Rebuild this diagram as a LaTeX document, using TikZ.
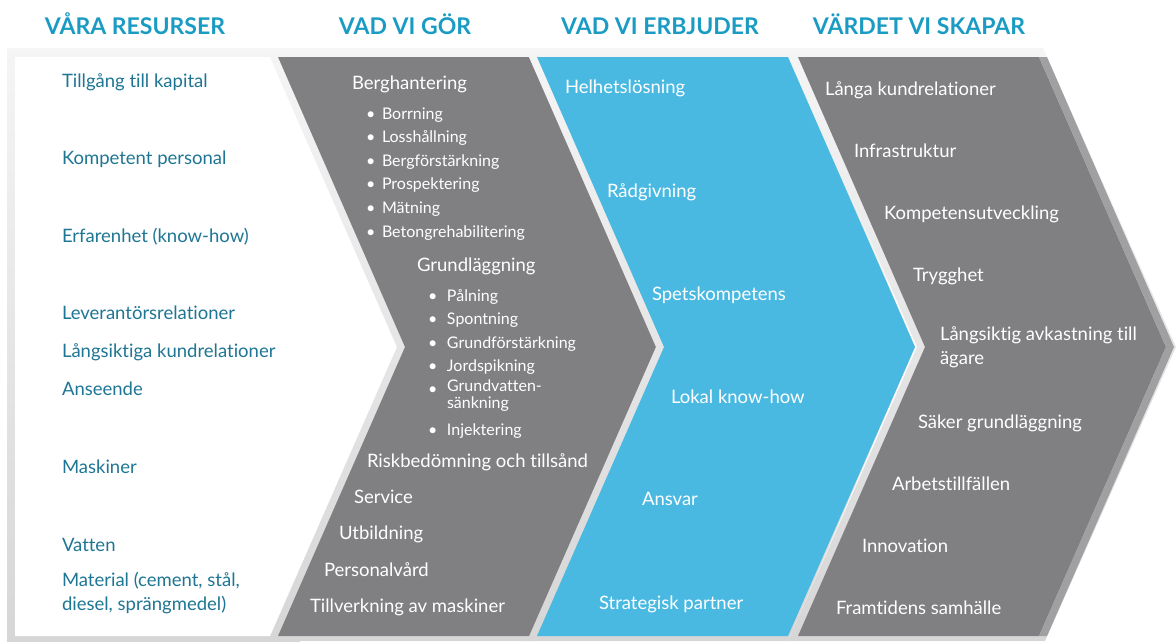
\documentclass[tikz,border=0pt]{standalone}
\usepackage{fontspec}
\setmainfont{Lato}[Ligatures=NoCommon]
\definecolor{headblue}{RGB}{26,155,195}
\definecolor{tealtext}{RGB}{30,118,148}
\definecolor{chevgray}{RGB}{128,128,130}
\definecolor{offerblue}{RGB}{74,185,225}
\definecolor{framedark}{RGB}{160,160,162}

\begin{document}
\begin{tikzpicture}[x=1pt,y=-1pt]
\tikzset{ inner sep=0pt, outer sep=0pt,
  head/.style={anchor=base, font=\fontsize{23}{26}\selectfont\bfseries, text=headblue},
  res/.style={anchor=base west, font=\fontsize{18.5}{24}\selectfont, text=tealtext, align=left},
  item/.style={anchor=base west, font=\fontsize{18.5}{24}\selectfont, text=white, align=left},
  sub/.style={anchor=base west, font=\fontsize{16}{17}\selectfont, text=white, align=left},
  frame/.style={top color=gray!8, bottom color=gray!32},
}

\useasboundingbox (0,0) rectangle (1176,641);
%\draw [lightgray, dashed](0,0) grid[step=50] (1176,641);

% frames and shapes
\shade [frame] (7,48) rectangle (300,641);
\fill [white] (15,57) -- (278,57) -- (405,347) -- (278,636) -- (15,636) -- cycle;

\shade [frame] (266,48) -- (530,48) -- (657,347) -- (530,641) -- (268,641) -- (397,347) -- cycle;
\fill [chevgray] (278,57) -- (530,57) -- (657,347) -- (530,636) -- (278,636) -- (405,347) -- cycle;

\shade [frame] (525,48) -- (788,48) -- (915,347) -- (788,641) -- (527,641) -- (656,347) -- cycle;
\fill [offerblue] (537,57) -- (788,57) -- (915,347) -- (788,636) -- (537,636) -- (664,347) -- cycle;

\shade [frame] (786,48) -- (1043,48) -- (1176,347) -- (1045,641) -- (788,641) -- (917,347) -- cycle;
\fill [chevgray] (798,57) -- (1039,57) -- (1166,347) -- (1039,636) -- (798,636) -- (925,347) -- cycle;
\fill [framedark] (1039,57) -- (1047,57) -- (1174,347) -- (1047,636) -- (1039,636) -- (1166,347) -- cycle;

% headings
\node [head] (H1) at (135,34) {VÅRA RESURSER};
\node [head] (H2) at (405,34) {VAD VI GÖR};
\node [head] (H3) at (660,34) {VAD VI ERBJUDER};
\node [head] (H4) at (919,34) {VÄRDET VI SKAPAR};

% resurser
\node [res] (R1) at (62,87)  {Tillgång till kapital};
\node [res] (R2) at (62,164) {Kompetent personal};
\node [res] (R3) at (62,242) {Erfarenhet (know-how)};
\node [res] (R4) at (62,319) {Leverantörsrelationer};
\node [res] (R5) at (62,357) {Långsiktiga kundrelationer};
\node [res] (R6) at (62,395) {Anseende};
\node [res] (R7) at (62,473) {Maskiner};
\node [res] (R8) at (62,551) {Vatten};
\node [res, anchor=west] (R9) at (62,593) {Material (cement, stål,\\diesel, sprängmedel)};

% vad vi gör
\node [item] (G1) at (352,89) {Berghantering};
\node [sub] (B1) at (366,119) {\makebox[16pt][l]{\textbullet}Borrning};
\node [sub] (B2) at (366,142) {\makebox[16pt][l]{\textbullet}Losshållning};
\node [sub] (B3) at (366,166) {\makebox[16pt][l]{\textbullet}Bergförstärkning};
\node [sub] (B4) at (366,189) {\makebox[16pt][l]{\textbullet}Prospektering};
\node [sub] (B5) at (366,213) {\makebox[16pt][l]{\textbullet}Mätning};
\node [sub] (B6) at (366,237) {\makebox[16pt][l]{\textbullet}Betongrehabilitering};
\node [item] (G2) at (417,271) {Grundläggning};
\node [sub] (F1) at (428,301) {\makebox[19pt][l]{\textbullet}Pålning};
\node [sub] (F2) at (428,324) {\makebox[19pt][l]{\textbullet}Spontning};
\node [sub] (F3) at (428,348) {\makebox[19pt][l]{\textbullet}Grundförstärkning};
\node [sub] (F4) at (428,371) {\makebox[19pt][l]{\textbullet}Jordspikning};
\node [sub] (F5b) at (428,394) {\textbullet};
\node [sub, anchor=west] (F5) at (447,396) {Grundvatten-\\sänkning};
\node [sub] (F6) at (428,435) {\makebox[19pt][l]{\textbullet}Injektering};
\node [item] (G3) at (367,467) {Riskbedömning och tillsånd};
\node [item] (G4) at (354,503) {Service};
\node [item] (G5) at (339,539) {Utbildning};
\node [item] (G6) at (324,576) {Personalvård};
\node [item] (G7) at (310,612) {Tillverkning av maskiner};

% vad vi erbjuder
\node [item] (E1) at (565,93)  {Helhetslösning};
\node [item] (E2) at (607,197) {Rådgivning};
\node [item] (E3) at (652,300) {Spetskompetens};
\node [item] (E4) at (671,403) {Lokal know-how};
\node [item] (E5) at (642,505) {Ansvar};
\node [item] (E6) at (599,609) {Strategisk partner};

% värdet vi skapar
\node [item] (V1) at (825,95)  {Långa kundrelationer};
\node [item] (V2) at (854,157) {Infrastruktur};
\node [item] (V3) at (884,219) {Kompetensutveckling};
\node [item] (V4) at (913,281) {Trygghet};
\node [item, anchor=west] (V5) at (940,347) {Långsiktig avkastning till\\ägare};
\node [item] (V6) at (918,428) {Säker grundläggning};
\node [item] (V7) at (892,490) {Arbetstillfällen};
\node [item] (V8) at (862,552) {Innovation};
\node [item] (V9) at (836,614) {Framtidens samhälle};

\end{tikzpicture}
\end{document}
